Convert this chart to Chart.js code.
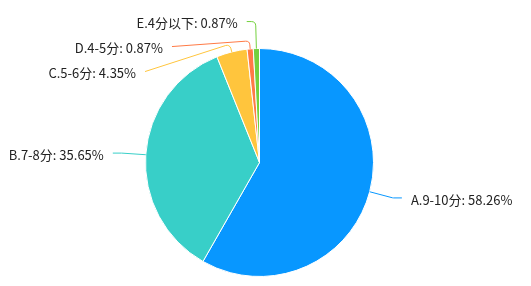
<!DOCTYPE html>
<html>
<head>
<meta charset="utf-8">
<script src="https://cdn.jsdelivr.net/npm/chart.js@4/dist/chart.umd.min.js"></script>
<style>
  html, body { margin: 0; padding: 0; background: #fff; }
</style>
</head>
<body>
<canvas id="chart" width="531" height="286"></canvas>
<script>
const categories = ["A.9-10分", "B.7-8分", "C.5-6分", "D.4-5分", "E.4分以下"];
const percents = [58.26, 35.65, 4.35, 0.87, 0.87];
const sliceColors = ["#0897ff", "#38cfc8", "#ffc53d", "#ff7a45", "#73d13d"];

// labels outside the pie with leader lines, roughly like echarts does it
const outsideLabels = {
    id: 'outsideLabels',
    afterDatasetsDraw(chart) {
        const ctx = chart.ctx;
        const meta = chart.getDatasetMeta(0);
        const len1 = 24;
        const len2 = 9;
        const textGap = 9;
        const rowGap = 25;

        const items = meta.data.map((arc, i) => {
            const p = arc.getProps(['x', 'y', 'startAngle', 'endAngle', 'outerRadius'], true);
            const mid = (p.startAngle + p.endAngle) / 2;
            const cos = Math.cos(mid), sin = Math.sin(mid);
            const dir = cos < 0 ? -1 : 1;
            const rA = p.outerRadius + len1;
            return {
                i: i, cx: p.x, cy: p.y, r: p.outerRadius, cos: cos, sin: sin, dir: dir, rA: rA,
                x: p.x + cos * rA + dir * len2,
                y: p.y + sin * rA,
                shifted: false
            };
        });

        [-1, 1].forEach(dir => {
            const side = items.filter(it => it.dir === dir).sort((a, b) => a.y - b.y);
            let lastY = -Infinity;
            let moved = false;
            side.forEach(it => {
                if (it.y < lastY + rowGap) {
                    it.y = lastY + rowGap;
                    it.shifted = true;
                    moved = true;
                }
                lastY = it.y;
            });
            if (!moved) return;
            // nudge the pushed group back up a little, echarts splits the shift
            const pushed = side.filter(it => it.shifted);
            side.forEach((it, k) => {
                if (it.shifted || (side[k + 1] && side[k + 1].shifted)) {
                    it.y -= 3;
                    it.shifted = true;
                }
            });
            // put shifted labels on an ellipse through the top-most one
            const top = side.filter(it => it.y < it.cy);
            if (!top.length) return;
            const first = top[0];
            const dy0 = Math.abs(first.y - first.cy);
            const dx0 = Math.abs(first.x - first.cx) - len2;
            const rB = dx0 < first.rA ? Math.sqrt(dy0 * dy0 / (1 - dx0 * dx0 / (first.rA * first.rA))) : first.rA;
            top.forEach(it => {
                const dy = Math.abs(it.y - it.cy);
                const dx = Math.sqrt(Math.max(0, 1 - dy * dy / (rB * rB))) * it.rA;
                it.x = it.cx + (dx + len2) * dir;
            });
        });

        ctx.save();
        ctx.font = '13px "Microsoft YaHei", "Noto Sans CJK SC", sans-serif';
        ctx.lineWidth = 1;
        items.forEach(it => {
            const p0 = { x: it.cx + it.cos * it.r, y: it.cy + it.sin * it.r };
            let p1;
            if (it.shifted) {
                let rr = it.r + 8;
                const reach = (it.cy - it.y) / -it.sin;
                if (reach > rr) rr = reach;
                p1 = { x: it.cx + it.cos * rr, y: it.cy + it.sin * rr };
            } else {
                p1 = { x: it.cx + it.cos * it.rA, y: it.y };
            }
            const p2 = { x: it.x, y: it.y };
            const d1 = Math.hypot(p1.x - p0.x, p1.y - p0.y);
            const d2 = Math.hypot(p2.x - p1.x, p2.y - p1.y);
            const rad = Math.max(0.1, Math.min(6, d1 / 2, d2 / 2));

            ctx.strokeStyle = sliceColors[it.i];
            ctx.beginPath();
            ctx.moveTo(p0.x, p0.y);
            ctx.arcTo(p1.x, p1.y, p2.x, p2.y, rad);
            ctx.lineTo(p2.x, p2.y);
            ctx.stroke();

            ctx.fillStyle = '#222';
            ctx.textBaseline = 'middle';
            ctx.textAlign = it.dir < 0 ? 'right' : 'left';
            const text = categories[it.i] + ': ' + percents[it.i].toFixed(2) + '%';
            ctx.fillText(text, it.x + it.dir * textGap, it.y + 2);
        });
        ctx.restore();
    }
};

new Chart(document.getElementById('chart'), {
    type: 'pie',
    data: {
        labels: categories,
        datasets: [{
            data: percents,
            backgroundColor: sliceColors,
            borderColor: '#fff',
            borderWidth: 1
        }]
    },
    options: {
        responsive: false,
        animation: false,
        layout: { padding: { left: 145, right: 157, top: 48, bottom: 9 } },
        plugins: {
            legend: { display: false },
            tooltip: { enabled: false }
        }
    },
    plugins: [outsideLabels]
});
</script>
</body>
</html>
